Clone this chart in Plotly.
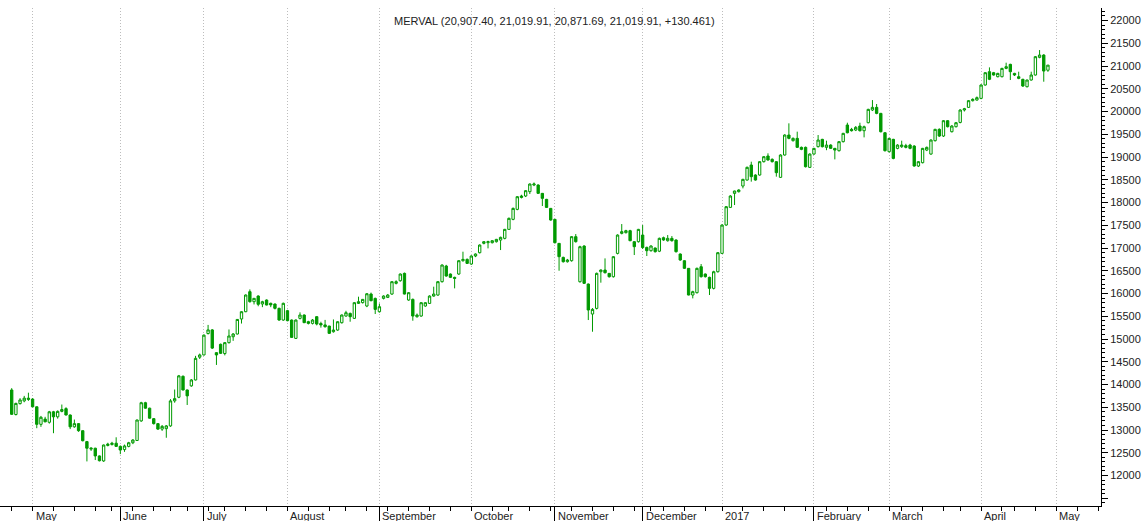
import pandas as pd
import plotly.graph_objects as go

# ---------------- data ----------------
opens = [
    13880, 13340, 13580, 13640, 13700, 13680, 13510, 13125, 13240, 13170,
    13400, 13290, 13410, 13470, 13330, 13070, 13140, 12985, 12745, 12580,
    12600, 12430, 12320, 12660, 12680, 12710, 12640, 12570, 12640, 12720,
    12770, 13200, 13600, 13480, 13250, 13140, 13020, 13030, 13090, 13640,
    13720, 14180, 13880, 13970, 14100, 14600, 14650, 15120, 15200, 14700,
    14883, 14680, 14920, 15050, 15110, 15440, 15600, 16040, 15820, 15945,
    15770, 15857, 15784, 15769, 15674, 15417, 15623, 15417, 15014, 15454,
    15527, 15381, 15344, 15491, 15340, 15310, 15285, 15160, 15197, 15358,
    15505, 15563, 15454, 15783, 15800, 15725, 15988, 15893, 15600, 15893,
    15915, 15988, 16223, 16281, 16443, 15857, 15871, 15490, 15505, 15725,
    15783, 15944, 15966, 16260, 16604, 16428, 16355, 16428, 16721, 16750,
    16648, 16824, 16897, 17102, 17117, 17117, 17139, 17175, 17212, 17410,
    17630, 17849, 18143, 18143, 18238, 18384, 18384, 18201, 18069, 17871,
    17630, 17102, 16794, 16699, 16721, 17249, 16259, 17044, 16208, 15549,
    15673, 16479, 16516, 16443, 16369, 16882, 17322, 17337, 17381, 17139,
    17139, 17285, 17014, 16941, 17000, 16930, 17227, 17161, 17212, 17176,
    16868, 16721, 16553, 15967, 16018, 16589, 16428, 16355, 16113, 16479,
    16882, 17505, 17893, 18201, 18238, 18362, 18494, 18824, 18604, 18604,
    18897, 19022, 18949, 18897, 18553, 19044, 19483, 19359, 19410, 19212,
    19212, 18772, 19065, 19227, 19388, 19212, 19263, 19190, 19139, 19337,
    19703, 19608, 19593, 19681, 19578, 19754, 20033, 20091, 19959, 19534,
    19117, 19388, 19190, 19227, 19250, 19263, 19241, 18802, 18875, 19153,
    19065, 19359, 19608, 19461, 19798, 19556, 19666, 19760, 20033, 20091,
    20238, 20252, 20289, 20582, 20875, 20853, 20765, 20765, 20948, 21036,
    20838, 20765, 20707, 20545, 20692, 20802, 21190, 21241, 20907.40,
]
highs = [
    13920, 13600, 13700, 13750, 13820, 13700, 13520, 13310, 13290, 13420,
    13420, 13430, 13560, 13500, 13340, 13230, 13150, 12990, 12760, 12620,
    12610, 12440, 12680, 12720, 12740, 12840, 12660, 12680, 12740, 12800,
    13230, 13620, 13620, 13490, 13260, 13150, 13110, 13110, 13680, 13890,
    14210, 14200, 13890, 14120, 14630, 14680, 15100, 15310, 15220, 14710,
    14900, 14930, 15210, 15130, 15440, 15610, 15980, 16090, 15900, 15960,
    15840, 15870, 15800, 15780, 15690, 15800, 15640, 15430, 15430, 15586,
    15540, 15400, 15440, 15500, 15380, 15420, 15290, 15430, 15390, 15540,
    15620, 15580, 15810, 15930, 15880, 16010, 16020, 15910, 15780, 15960,
    15990, 16270, 16290, 16440, 16460, 16030, 15890, 15560, 15810, 15810,
    15960, 16150, 16270, 16640, 16630, 16440, 16370, 16730, 16919, 16770,
    16840, 16880, 17080, 17150, 17160, 17170, 17200, 17250, 17420, 17670,
    17890, 18140, 18170, 18270, 18420, 18440, 18400, 18210, 18080, 17880,
    17640, 17110, 16810, 16760, 17260, 17307, 17050, 17060, 16220, 15680,
    16460, 16530, 16772, 16450, 16820, 17300, 17527, 17400, 17400, 17150,
    17420, 17505, 17030, 17060, 17010, 17230, 17250, 17285, 17263, 17190,
    16880, 16730, 16560, 16060, 16570, 16648, 16440, 16370, 16500, 16910,
    17520, 17920, 18160, 18260, 18290, 18520, 18790, 18897, 18620, 18910,
    19020, 19081, 18970, 18910, 19060, 19500, 19740, 19430, 19557, 19230,
    19230, 19080, 19200, 19483, 19400, 19359, 19280, 19200, 19350, 19530,
    19754, 19640, 19680, 19754, 19690, 20060, 20252, 20165, 19970, 19545,
    19420, 19400, 19280, 19359, 19290, 19290, 19260, 18910, 19200, 19230,
    19390, 19620, 19630, 19810, 19810, 19700, 19770, 20050, 20080, 20250,
    20290, 20330, 20600, 20860, 20970, 20870, 20850, 20960, 21073, 21050,
    20850, 20875, 20720, 20700, 20875, 21220, 21351, 21260, 21019.91,
]
lows = [
    13330, 13320, 13560, 13610, 13640, 13500, 13040, 13070, 13170, 13140,
    12930, 13250, 13390, 13320, 13020, 13050, 12960, 12750, 12310, 12540,
    12340, 12310, 12300, 12640, 12660, 12630, 12470, 12520, 12620, 12690,
    12760, 13180, 13470, 13250, 13120, 13000, 12980, 12830, 13070, 13600,
    13700, 13870, 13550, 13950, 14090, 14560, 14640, 15100, 14780, 14430,
    14670, 14640, 14900, 14960, 15100, 15340, 15590, 15800, 15760, 15720,
    15700, 15740, 15700, 15650, 15400, 15400, 15390, 15030, 15000, 15430,
    15350, 15320, 15320, 15300, 15250, 15250, 15110, 15140, 15180, 15340,
    15490, 15380, 15440, 15770, 15780, 15700, 15830, 15549, 15580, 15870,
    15900, 15970, 16200, 16260, 15980, 15840, 15402, 15470, 15490, 15710,
    15770, 15930, 15950, 16240, 16370, 16340, 16113, 16410, 16700, 16650,
    16630, 16800, 16880, 17080, 16992, 17100, 17120, 16955, 17190, 17400,
    17610, 17830, 18090, 18120, 18186, 18360, 18190, 17923, 17880, 17600,
    17100, 16501, 16680, 16680, 16700, 17120, 16240, 16210, 15417, 15160,
    15650, 16238, 16440, 16350, 16350, 16860, 17300, 17320, 17150, 16846,
    17120, 16980, 16824, 16920, 16900, 16910, 17160, 17140, 17140, 16900,
    16720, 16540, 15960, 15893, 16000, 16350, 16350, 15967, 16090, 16460,
    16870, 17490, 17880, 17945, 18220, 18311, 18480, 18458, 18480, 18590,
    18880, 18920, 18880, 18568, 18540, 19030, 19390, 19340, 19200, 19150,
    18770, 18760, 19050, 19210, 19210, 19150, 19180, 18948, 19120, 19320,
    19520, 19560, 19570, 19560, 19432, 19740, 20010, 19940, 19540, 19120,
    19100, 18950, 19170, 19200, 19190, 19170, 18790, 18780, 18860, 19130,
    19050, 19340, 19440, 19440, 19650, 19540, 19650, 19740, 20000, 20080,
    20220, 20240, 20270, 20570, 20690, 20790, 20750, 20750, 20930, 20692,
    20780, 20710, 20540, 20530, 20680, 20790, 21170, 20655, 20871.69,
]
closes = [
    13345, 13585, 13660, 13700, 13675, 13510, 13125, 13280, 13180, 13400,
    13290, 13410, 13450, 13330, 13070, 13140, 12985, 12765, 12600, 12600,
    12430, 12325, 12670, 12690, 12710, 12640, 12560, 12650, 12720, 12780,
    13220, 13600, 13480, 13260, 13140, 13020, 13080, 13090, 13640, 13690,
    14190, 13880, 13750, 14100, 14575, 14650, 15085, 15200, 14800, 14650,
    14685, 14920, 15066, 15110, 15430, 15600, 15967, 15820, 15894, 15762,
    15820, 15747, 15750, 15674, 15417, 15784, 15403, 15036, 15417, 15527,
    15359, 15344, 15417, 15329, 15310, 15270, 15124, 15197, 15380, 15527,
    15578, 15490, 15798, 15820, 15871, 15995, 15842, 15651, 15710, 15944,
    15966, 16260, 16260, 16428, 15988, 16018, 15505, 15527, 15798, 15798,
    15944, 15988, 16260, 16626, 16384, 16355, 16333, 16721, 16750, 16662,
    16824, 16868, 17065, 17139, 17139, 17161, 17190, 17234, 17410, 17652,
    17871, 18128, 18113, 18260, 18406, 18406, 18201, 18091, 17893, 17615,
    17117, 16809, 16699, 16736, 17249, 17139, 17029, 16223, 15637, 15651,
    16443, 16516, 16457, 16369, 16809, 17285, 17359, 17381, 17161, 17029,
    17410, 17010, 16941, 17044, 16919, 17212, 17176, 17212, 17161, 16919,
    16736, 16553, 15967, 16040, 16553, 16370, 16370, 16113, 16479, 16897,
    17505, 17908, 18143, 18253, 18275, 18509, 18773, 18568, 18494, 18897,
    19007, 18934, 18897, 18656, 19044, 19483, 19410, 19410, 19212, 19168,
    18787, 19065, 19190, 19373, 19227, 19263, 19190, 19153, 19337, 19520,
    19534, 19578, 19652, 19578, 19666, 20047, 20091, 19959, 19556, 19139,
    19410, 18970, 19263, 19263, 19212, 19190, 18802, 18897, 19190, 19212,
    19373, 19608, 19461, 19798, 19666, 19681, 19754, 20033, 20060, 20238,
    20267, 20304, 20582, 20853, 20707, 20802, 20838, 20948, 20985, 20875,
    20802, 20729, 20560, 20692, 20802, 21205, 21241, 20889.449, 21019.91,
]

# trading calendar (weekdays minus market holidays), extended a little past the data
calendar_start = "2016-04-25"
calendar_end = "2017-05-19"
holidays = [
    "2016-05-25", "2016-06-17", "2016-06-20", "2016-07-08", "2016-08-15",
    "2016-10-10", "2016-11-28", "2016-12-08", "2016-12-09", "2016-12-30",
    "2017-02-27", "2017-02-28", "2017-03-24", "2017-04-13", "2017-04-14",
]
month_names = ["January", "February", "March", "April", "May", "June", "July",
               "August", "September", "October", "November", "December"]
title_name = "MERVAL"
# price-axis ticks (the lowest one is drawn without a label)
y_ticks = [11500, 12000, 12500, 13000, 13500, 14000, 14500, 15000, 15500, 16000, 16500,
           17000, 17500, 18000, 18500, 19000, 19500, 20000, 20500, 21000, 21500, 22000]
y_labels = [""] + [str(v) for v in y_ticks[1:]]

cal = pd.bdate_range(calendar_start, calendar_end)
cal = cal[~cal.isin(pd.to_datetime(holidays))]
n = len(closes)
dates = cal[:n]
xpos = list(range(n))

# month starts (major ticks) and week starts (minor ticks)
month_idx, month_lbl = [], []
week_idx = [0]
for k in range(1, len(cal)):
    if cal[k].month != cal[k - 1].month:
        month_idx.append(k)
        month_lbl.append(str(cal[k].year) if cal[k].month == 1 else month_names[cal[k].month - 1])
    if cal[k].isocalendar()[1] != cal[k - 1].isocalendar()[1]:
        week_idx.append(k)

green = "#009a00"
fig = go.Figure(go.Candlestick(
    x=xpos, open=opens, high=highs, low=lows, close=closes,
    text=[d.strftime("%Y-%m-%d") for d in dates],
    increasing=dict(line=dict(color=green, width=1), fillcolor="white"),
    decreasing=dict(line=dict(color=green, width=1), fillcolor=green),
    whiskerwidth=0, showlegend=False,
))

font_family = "Liberation Sans, Arial, sans-serif"
fig.update_layout(
    width=1144, height=521, autosize=False,
    margin=dict(l=0, r=43, t=8, b=15),
    paper_bgcolor="white", plot_bgcolor="white",
    font=dict(family=font_family, size=11, color="#222222"),
    boxgap=0.2,
    showlegend=False,
    hovermode="x",
)
fig.update_xaxes(
    range=[-2.8, 260.7], rangeslider=dict(visible=False),
    tickmode="array", tickvals=month_idx, ticktext=[""] * len(month_idx),
    ticks="outside", ticklen=14, tickwidth=1, tickcolor="black",
    showticklabels=False,
    showgrid=True, gridcolor="#bdbdbd", griddash="1px,2px", gridwidth=1,
    showline=True, linecolor="black", linewidth=1, zeroline=False,
    minor=dict(tickmode="array", tickvals=week_idx, ticks="outside", ticklen=4,
               tickcolor="black", tickwidth=1, showgrid=False),
)
fig.update_yaxes(
    side="right", range=[11330, 22275],
    tickmode="array", tickvals=y_ticks, ticktext=y_labels,
    ticks="outside", ticklen=6, tickwidth=1, tickcolor="black",
    tickfont=dict(size=11, color="#222222"),
    showgrid=False, zeroline=False,
    showline=True, linecolor="black", linewidth=1,
    minor=dict(dtick=100, tick0=0, ticks="outside", ticklen=3, tickcolor="black", showgrid=False),
)

# month labels, left-aligned next to their tick
for k, lbl in zip(month_idx, month_lbl):
    fig.add_annotation(x=k, y=-0.021, xref="x", yref="paper", text=lbl,
                       showarrow=False, xanchor="left", yanchor="middle", xshift=1,
                       font=dict(size=11, color="#222222"))

# header with last bar values
o, h, l, c = opens[-1], highs[-1], lows[-1], closes[-1]
chg = closes[-1] - closes[-2]
header = f"{title_name} ({o:,.2f}, {h:,.2f}, {l:,.2f}, {c:,.2f}, {chg:+.3f})"
fig.add_annotation(x=0.504, y=0.974, xref="paper", yref="paper", text=header,
                   showarrow=False, xanchor="center", yanchor="middle",
                   font=dict(size=11, color="#222222"))

# remove the browser's default page margin so the figure sits at the window's corner
fig.write_html("out.html", config={"displayModeBar": False},
               post_script="document.body.style.margin='0px';")
